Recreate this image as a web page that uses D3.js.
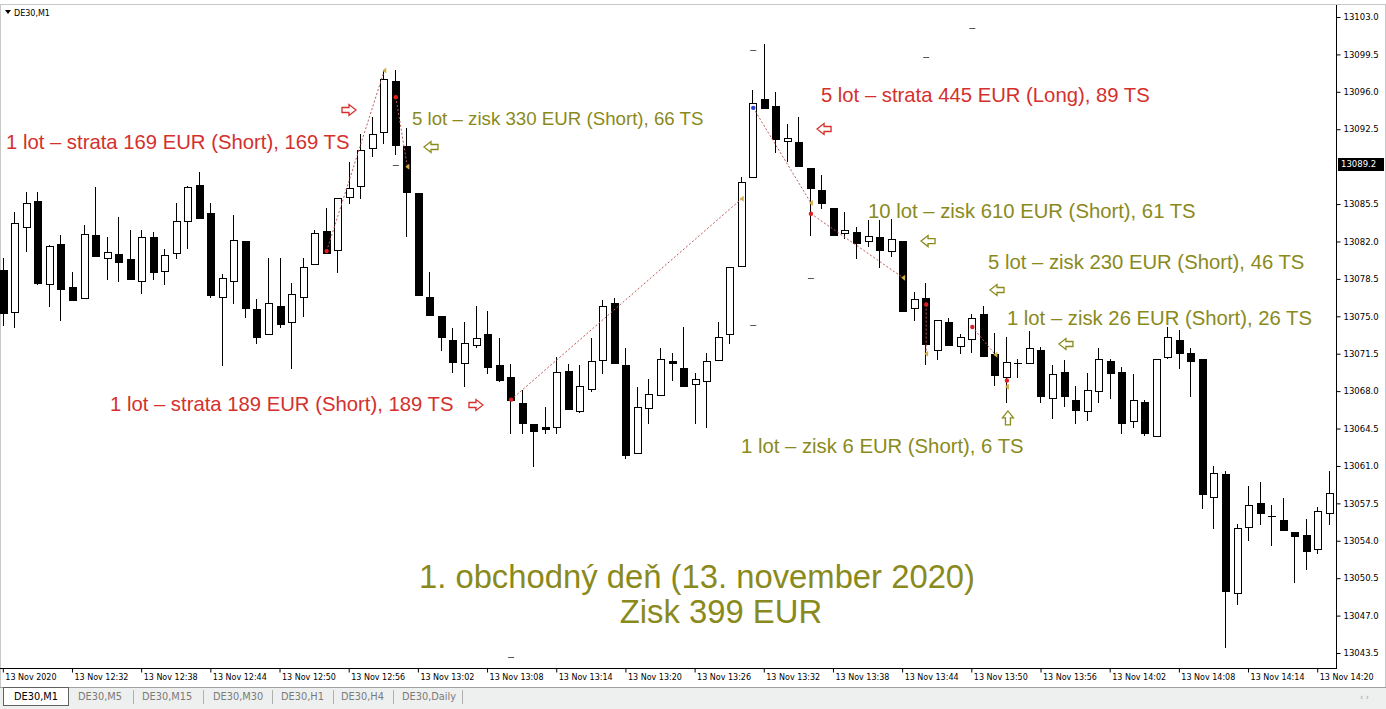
<!DOCTYPE html>
<html><head><meta charset="utf-8">
<script src="https://cdn.jsdelivr.net/npm/d3@7/dist/d3.min.js"></script>
<style>body{margin:0;background:#fff;overflow:hidden}svg{display:block}</style>
</head><body>
<svg id="c" width="1386" height="709"></svg>
<script>
// ---------- DATA (DE30, M1, 13 Nov 2020 12:26 – 14:21) ----------
const opens = [13079.3,13075.4,13083.4,13085.8,13078.0,13081.8,13077.7,13076.7,13082.6,13080.5,
13080.8,13080.4,13078.3,13082.4,13079.2,13080.9,13083.9,13087.3,13084.7,13076.8,
13078.3,13082.0,13075.7,13073.3,13076.0,13074.5,13076.8,13079.9,13083.0,13081.2,
13086.2,13087.2,13090.7,13092.2,13097.0,13090.9,13086.5,13076.8,13075.0,13072.8,
13070.6,13072.3,13073.3,13070.4,13069.3,13066.9,13064.9,13064.6,13064.6,13069.9,
13066.1,13068.2,13070.9,13076.2,13070.4,13062.2,13066.4,13067.6,13070.8,13070.2,
13068.7,13068.9,13070.9,13073.3,13079.7,13088.0,13095.3,13094.7,13091.4,13091.3,
13088.9,13086.8,13085.1,13082.8,13082.9,13082.0,13082.4,13081.1,13082.0,13075.8,
13076.7,13071.8,13074.5,13072.2,13072.9,13075.2,13071.5,13069.3,13070.6,13070.6,
13071.8,13067.4,13069.8,13067.2,13066.1,13068.0,13070.8,13069.8,13065.2,13067.0,
13063.8,13071.2,13072.8,13071.6,13071.0,13058.1,13060.2,13049.1,13055.3,13057.5,
13056.3,13055.9,13054.8,13054.5,13053.2,13056.6];
const highs = [13080.5,13084.8,13086.6,13086.6,13081.7,13082.6,13079.1,13083.5,13087.1,13082.4,
13084.3,13083.1,13083.1,13082.9,13081.3,13085.6,13087.2,13088.5,13085.6,13079.0,
13084.5,13082.0,13076.6,13080.5,13080.5,13078.1,13080.5,13083.1,13085.1,13086.1,
13089.4,13092.1,13093.6,13098.0,13098.0,13092.6,13086.5,13079.1,13075.0,13073.9,
13074.5,13076.0,13075.5,13073.0,13070.5,13068.1,13064.9,13066.5,13071.2,13070.5,
13070.4,13073.0,13076.5,13076.7,13072.0,13068.4,13069.1,13072.0,13071.6,13074.0,
13069.7,13071.6,13074.5,13079.6,13088.0,13096.2,13100.5,13096.0,13093.0,13093.6,
13088.9,13088.2,13085.1,13084.8,13083.4,13084.0,13084.0,13084.1,13082.0,13077.3,
13078.1,13074.7,13074.8,13073.3,13075.2,13076.0,13073.4,13073.1,13071.0,13073.6,
13072.1,13070.4,13070.9,13068.5,13069.7,13072.0,13071.0,13070.3,13069.6,13067.2,
13071.0,13074.0,13073.7,13072.0,13071.0,13061.0,13060.5,13055.6,13059.1,13059.5,
13057.3,13058.0,13054.8,13056.0,13057.2,13060.5];
const lows = [13074.2,13074.0,13081.1,13078.0,13076.0,13074.7,13076.5,13076.7,13080.6,13078.5,
13078.3,13078.5,13077.2,13078.5,13078.0,13080.5,13081.4,13084.2,13076.8,13070.4,
13076.2,13074.9,13072.5,13073.3,13074.0,13070.2,13075.0,13079.9,13080.9,13079.1,
13085.6,13086.1,13090.0,13091.2,13090.2,13082.5,13077.0,13075.1,13071.8,13069.8,
13068.5,13072.1,13069.7,13068.9,13064.1,13064.1,13061.0,13064.1,13064.1,13066.3,
13066.0,13068.0,13069.7,13070.6,13061.7,13062.2,13065.0,13067.6,13069.0,13068.5,
13065.0,13064.6,13070.9,13072.5,13079.7,13088.0,13094.5,13090.4,13089.5,13089.1,
13082.6,13085.1,13082.6,13082.3,13080.5,13081.6,13079.6,13080.6,13075.5,13074.7,
13070.5,13071.0,13072.3,13071.6,13071.7,13071.3,13068.6,13067.0,13069.3,13070.6,
13067.0,13065.5,13066.6,13065.0,13065.3,13067.0,13067.4,13064.1,13064.6,13063.9,
13063.8,13071.1,13070.2,13067.5,13057.1,13055.2,13044.1,13048.1,13054.1,13055.6,
13053.6,13055.0,13050.1,13051.4,13052.9,13055.6];
const closes = [13075.3,13083.7,13085.6,13078.1,13081.6,13077.6,13076.5,13082.7,13080.6,13081.0,
13080.1,13078.5,13082.4,13079.1,13080.7,13083.9,13087.1,13084.2,13077.0,13078.6,
13082.1,13075.8,13073.1,13076.2,13074.3,13077.1,13079.6,13082.8,13080.9,13086.1,
13087.0,13090.6,13092.1,13097.2,13091.0,13086.6,13077.0,13075.1,13073.1,13070.7,
13072.5,13073.0,13070.3,13069.0,13067.2,13065.0,13064.3,13064.5,13069.8,13066.3,
13068.5,13070.8,13076.0,13070.6,13062.0,13066.5,13067.7,13071.0,13070.6,13068.5,
13069.1,13070.8,13073.1,13079.6,13087.6,13095.0,13094.5,13091.6,13091.7,13089.1,
13087.0,13085.6,13082.6,13083.1,13081.9,13082.5,13081.2,13082.2,13075.5,13076.6,
13072.4,13074.7,13072.3,13073.1,13074.8,13071.3,13069.5,13070.7,13070.6,13072.0,
13067.5,13069.6,13067.5,13066.2,13068.1,13071.0,13069.7,13065.0,13067.2,13064.1,
13071.0,13073.1,13071.6,13070.8,13058.4,13060.3,13049.3,13055.2,13057.3,13056.6,
13056.3,13055.0,13054.4,13053.0,13056.8,13058.5];

const xTickIndex  = [0,6,12,18,24,30,36,42,48,54,60,66,72,78,84,90,96,102,108,114];
const xTickLabels = ["13 Nov 2020","13 Nov 12:32","13 Nov 12:38","13 Nov 12:44","13 Nov 12:50",
  "13 Nov 12:56","13 Nov 13:02","13 Nov 13:08","13 Nov 13:14","13 Nov 13:20","13 Nov 13:26",
  "13 Nov 13:32","13 Nov 13:38","13 Nov 13:44","13 Nov 13:50","13 Nov 13:56","13 Nov 14:02",
  "13 Nov 14:08","13 Nov 14:14","13 Nov 14:20"];
const yTicks = [13103.0,13099.5,13096.0,13092.5,13089.0,13085.5,13082.0,13078.5,13075.0,
  13071.5,13068.0,13064.5,13061.0,13057.5,13054.0,13050.5,13047.0,13043.5];
const currentPrice = 13089.2;

// trades
const tradeOpenIdx   = [28,34,44,65,70,80,84,87];
const tradeOpenPx    = [13081.1,13095.5,13067.2,13094.5,13084.6,13076.1,13074.0,13069.0];
const tradeCloseIdx  = [33,35,64,70,78,80,86,87];
const tradeClosePx   = [13098.0,13089.0,13086.0,13085.6,13078.6,13071.5,13071.4,13068.4];
const tradeSide      = ["Short","Short","Short","Long","Short","Short","Short","Short"];

// small level dashes
const dashIdx = [34,65,80,84,70,65,44];
const dashPx  = [13089.2,13099.9,13099.3,13102.0,13078.6,13074.2,13043.1];

// annotations (anchored in bar index / price)
const noteTexts = ["1 lot – strata 169 EUR (Short), 169 TS","5 lot – zisk 330 EUR (Short), 66 TS",
  "1 lot – strata 189 EUR (Short), 189 TS","5 lot – strata 445 EUR (Long), 89 TS",
  "10 lot – zisk 610 EUR (Short), 61 TS","5 lot – zisk 230 EUR (Short), 46 TS",
  "1 lot – zisk 26 EUR (Short), 26 TS","1 lot – zisk 6 EUR (Short), 6 TS"];
const noteIdx  = [0.19,35.4,9.21,70.87,74.95,85.36,87.0,63.94];
const notePx   = [13091.3,13093.55,13066.8,13095.7,13084.85,13080.08,13074.84,13062.87];
const noteLoss = [true,false,true,true,false,false,false,false];
const noteSmall= [false,true,false,false,false,false,false,false];

const arrowIdx = [29.94,37.05,40.95,71.14,80.16,86.14,92.12,87.09];
const arrowPx  = [13094.3,13090.84,13066.7,13092.52,13082.04,13077.46,13072.41,13065.49];
const arrowDir = ["right","left","right","left","left","left","left","up"];
const arrowLoss= [true,false,true,true,false,false,false,false];

const titleLines = ["1. obchodný deň (13. november 2020)","Zisk 399 EUR"];
const titleIdx = [60.12,62.2];
const titlePx  = [13050.61,13047.34];

const tabs = ["DE30,M1","DE30,M5","DE30,M15","DE30,M30","DE30,H1","DE30,H4","DE30,Daily"];

// ---------- DRAW ----------
const RED = "#d4302c", OLIVE = "#8a8a1c";
const svg = d3.select("#c");
const x = d3.scaleLinear().domain([0,115]).range([3.8, 3.8 + 11.53*115]);
const y = d3.scaleLinear().domain([13043.5,13103.0]).range([653,17]);
const plotR = 1336, plotB = 668;

svg.append("rect").attr("width",1386).attr("height",709).attr("fill","#fff");
svg.append("rect").attr("x",0.5).attr("y",4.5).attr("width",1385).attr("height",683)
  .attr("fill","none").attr("stroke","#c8c8c8");

svg.append("path").attr("d","M5,10 L11,10 L8,14 Z").attr("fill","#000");
svg.append("text").attr("x",14).attr("y",13).attr("dy","0.35em")
  .style("font","8px 'DejaVu Sans'").attr("fill","#000").text("DE30,M1");

const gD = svg.append("g");
dashIdx.forEach((d,k)=>{
  gD.append("line").attr("x1",x(d)-3).attr("x2",x(d)+3)
    .attr("y1",Math.round(y(dashPx[k]))+0.5).attr("y2",Math.round(y(dashPx[k]))+0.5)
    .attr("stroke","#555").attr("stroke-width",1);
});

const gC = svg.append("g").attr("shape-rendering","crispEdges");
opens.forEach((o,i)=>{
  const c = closes[i], h = highs[i], l = lows[i];
  const cx = Math.round(x(i));
  gC.append("line").attr("x1",cx-0.5).attr("x2",cx-0.5)
    .attr("y1",Math.round(y(h))).attr("y2",Math.round(y(l))+1)
    .attr("stroke","#000").attr("stroke-width",1);
  const top = Math.round(y(Math.max(o,c))), bot = Math.round(y(Math.min(o,c)));
  if (bot - top < 1) {
    gC.append("rect").attr("x",cx-4).attr("y",top).attr("width",8).attr("height",1).attr("fill","#000");
  } else if (c < o) {
    gC.append("rect").attr("x",cx-4).attr("y",top).attr("width",8).attr("height",bot-top+1).attr("fill","#000");
  } else {
    gC.append("rect").attr("x",cx-3.5).attr("y",top+0.5).attr("width",7).attr("height",bot-top)
      .attr("fill","#fff").attr("stroke","#000").attr("stroke-width",1);
  }
});

const gT = svg.append("g");
tradeOpenIdx.forEach((oi,k)=>{
  const x1 = x(oi), y1 = y(tradeOpenPx[k]), x2 = x(tradeCloseIdx[k]), y2 = y(tradeClosePx[k]);
  gT.append("line").attr("x1",x1).attr("y1",y1).attr("x2",x2).attr("y2",y2)
    .attr("stroke","#c05858").attr("stroke-width",1).attr("stroke-dasharray","2,2");
  gT.append("circle").attr("cx",x1).attr("cy",y1).attr("r",2.2)
    .attr("fill", tradeSide[k]==="Long" ? "#2a3fd0" : "#e02020");
  gT.append("path").attr("d",`M${x2-2},${y2} L${x2+2},${y2-3} L${x2+2},${y2+3} Z`)
    .attr("fill","#d2b048");
});

svg.append("line").attr("x1",plotR+0.5).attr("x2",plotR+0.5).attr("y1",5).attr("y2",plotB)
  .attr("stroke","#000");
svg.append("line").attr("x1",0).attr("x2",plotR+1).attr("y1",plotB+0.5).attr("y2",plotB+0.5)
  .attr("stroke","#000");

const yAx = svg.append("g").attr("transform",`translate(${plotR+0.5},0)`)
  .call(d3.axisRight(y).tickValues(yTicks).tickSize(4).tickPadding(3).tickFormat(d3.format(".1f")));
yAx.select(".domain").remove();
yAx.selectAll("text").style("font","8.5px 'DejaVu Sans'").attr("fill","#000");
yAx.selectAll("line").attr("stroke","#000");
yAx.selectAll(".tick").filter(d=>d===13089.0).remove();

const xAx = svg.append("g").attr("transform",`translate(0,${plotB+0.5})`)
  .call(d3.axisBottom(x).tickValues(xTickIndex).tickSize(4).tickPadding(3)
    .tickFormat(d=>xTickLabels[xTickIndex.indexOf(d)]));
xAx.select(".domain").remove();
xAx.selectAll("line").attr("stroke","#000").attr("transform","translate(-1,0)");
xAx.selectAll("text").attr("text-anchor","start").attr("x",1).attr("y",6).attr("dy","0.71em")
  .style("font","8px 'DejaVu Sans'").attr("fill","#000");

const cy = y(currentPrice);
svg.append("rect").attr("x",plotR+2).attr("y",cy-6.5).attr("width",46).attr("height",13).attr("fill","#000");
svg.append("text").attr("x",plotR+5).attr("y",cy).attr("dy","0.35em")
  .style("font","8.5px 'DejaVu Sans'").attr("fill","#fff").text(d3.format(".1f")(currentPrice));

const gN = svg.append("g");
noteTexts.forEach((t,k)=>{
  gN.append("text").attr("x",x(noteIdx[k])).attr("y",y(notePx[k])).attr("dy","0.35em")
    .style("font",(noteSmall[k] ? "18.7px" : "20.3px") + " 'Liberation Sans', Arial, sans-serif")
    .attr("fill", noteLoss[k] ? RED : OLIVE).text(t);
});

const arrowPath = "M-7,-2.5 L0,-2.5 L0,-5.5 L7,0 L0,5.5 L0,2.5 L-7,2.5 Z";
const rot = {right:0,left:180,up:-90,down:90};
arrowIdx.forEach((a,k)=>{
  gN.append("path").attr("d",arrowPath)
    .attr("transform",`translate(${x(a)},${y(arrowPx[k])}) rotate(${rot[arrowDir[k]]})`)
    .attr("fill","#fff").attr("stroke", arrowLoss[k] ? RED : OLIVE).attr("stroke-width",1.3);
});

titleLines.forEach((t,k)=>{
  gN.append("text").attr("x",x(titleIdx[k])).attr("y",y(titlePx[k])).attr("dy","0.35em")
    .attr("text-anchor","middle").style("font","32.8px 'Liberation Sans', Arial, sans-serif")
    .attr("fill",OLIVE).text(t);
});

svg.append("rect").attr("x",0).attr("y",688).attr("width",1386).attr("height",21).attr("fill","#eef0f0");
svg.append("line").attr("x1",0).attr("x2",1386).attr("y1",687.5).attr("y2",687.5).attr("stroke","#a0a0a0");
svg.append("rect").attr("x",3.5).attr("y",687.5).attr("width",65).attr("height",18)
  .attr("fill","#fff").attr("stroke","#606060");
const tabX = [14,78,142,213,281,341,402];
const sepX = [133,203,272,333,393,462];
tabs.forEach((t,k)=>{
  svg.append("text").attr("x",tabX[k]).attr("y",697).attr("dy","0.35em")
    .style("font","9.8px 'DejaVu Sans'").attr("fill", k===0 ? "#000" : "#7a7a7a").text(t);
});
sepX.forEach(sx=>svg.append("line").attr("x1",sx+0.5).attr("x2",sx+0.5).attr("y1",690).attr("y2",704)
  .attr("stroke","#b0b0b0"));
svg.append("text").attr("x",1360).attr("y",697).attr("dy","0.35em").style("font","8px 'DejaVu Sans'")
  .attr("fill","#999").text("‹   ›");
</script>
</body></html>
